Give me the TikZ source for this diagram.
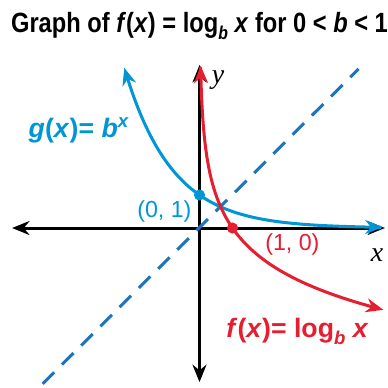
\documentclass[tikz,border=0pt]{standalone}
\usepackage{fontspec}
\setmainfont{Liberation Sans}
\newfontfamily\axisfont{Liberation Serif}
\usetikzlibrary{arrows.meta,calc,positioning}
\definecolor{gblue}{RGB}{0,150,214}
\definecolor{lineblue}{RGB}{30,115,190}
\definecolor{fred}{RGB}{229,30,48}
\newcommand{\lowsub}[1]{\raisebox{-0.45ex}{\fontsize{8}{9}\selectfont\itshape #1}}
\tikzset{
  axis/.style={line width=1.3pt,black,<->},
  curve/.style={line width=1.3pt,<->,smooth,samples=150},
  lbl/.style={font=\bfseries\fontsize{11.5}{13}\selectfont,inner sep=0pt},
  pnt/.style={font=\fontsize{10}{12}\selectfont,inner sep=0pt},
  dot/.style={circle,inner sep=0pt,minimum size=4.8pt},
}

\begin{document}
\begin{tikzpicture}[>={Stealth[length=7.5pt,width=6pt]}, x=0.5cm, y=0.5cm]
  \useasboundingbox (-6.045,-4.818) rectangle (5.712,6.909);

  % title
  \node[anchor=base,inner sep=0pt] (title) at (0,5.91)
    {\scalebox{0.85}[1]{\bfseries\fontsize{12}{14}\selectfont Graph of \textit{f}(\textit{x}) = log\lowsub{b} \textit{x} for 0 < \textit{b} < 1}};

  % axes
  \coordinate (xl) at (-5.68,0); \coordinate (xr) at (5.62,0);
  \coordinate (yb) at (0,-4.67); \coordinate (yt) at (0,4.94);
  \draw[axis] (xl) -- (xr);
  \draw[axis] (yb) -- (yt);
  \node[inner sep=0pt] (xlab) at (5.38,-0.82) {\axisfont\itshape\fontsize{12}{14}\selectfont x};
  \node[inner sep=0pt] (ylab) at (0.56,4.48) {\axisfont\itshape\fontsize{12}{14}\selectfont y};

  % y = x
  \coordinate (d1) at (-4.75,-4.72); \coordinate (d2) at (4.82,4.82);
  \draw[line width=1.3pt,lineblue,dash pattern=on 7pt off 4.7pt] (d1) -- (d2);

  % g(x) = b^x and f(x) = log_b x, b = 1/2
  \draw[curve,gblue] plot[domain=-2.28:5.55] (\x,{2^(-\x)});
  \draw[curve,fred] plot[domain=4.92:-2.48,variable=\t] ({2^(-\t)},\t);

  \node[dot,fill=gblue] (p01) at (0,1) {};
  \node[dot,fill=fred] (p10) at (1,0) {};

  % labels
  \node[pnt,gblue,anchor=base east] (l01) at (-0.23,0.33) {(0, 1)};
  \node[pnt,fred,anchor=base west] (l10) at (1.98,-0.67) {(1, 0)};
  \node[lbl,gblue,anchor=base] (glab) at (-3.64,2.73)
    {\textit{g}(\textit{x})= \textit{b}\textsuperscript{\textit{x}}};
  \node[lbl,fred,anchor=base] (flab) at (2.97,-3.33)
    {\textit{f}(\textit{x})= log\lowsub{b} \textit{x}};
\end{tikzpicture}
\end{document}
